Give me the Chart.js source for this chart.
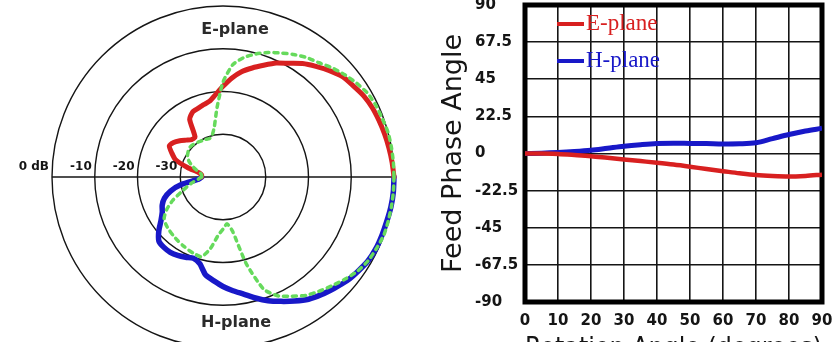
<!DOCTYPE html>
<html>
<head>
<meta charset="utf-8">
<script src="https://cdn.jsdelivr.net/npm/chart.js@4.4.1/dist/chart.umd.min.js"></script>
<style>
  html, body { margin: 0; padding: 0; width: 832px; height: 342px; overflow: hidden; background: #fff; }
  #polar { position: absolute; left: 0; top: 0; }
  #phase { position: absolute; left: 420px; top: 0; }
</style>
</head>
<body>
<canvas id="polar" width="420" height="360"></canvas>
<canvas id="phase" width="412" height="370"></canvas>
<script>
// pattern cuts, angle off boresight (deg)
const cutAngles = [0, 5, 10, 15, 20, 25, 30, 35, 40, 45, 50, 55, 60, 65, 70, 75, 80, 85, 90,
  95, 100, 105, 110, 115, 120, 125, 130, 135, 140, 145, 150, 155, 160, 165, 170, 175, 180];
const ePlaneDb = [0, -0.3, -0.6, -0.9, -1.2, -1.5, -2.0, -2.8, -3.5, -4.8, -6.2, -7.6, -9.3, -10.6, -12.2,
  -13.6, -15.0, -16.8, -18.8, -20.6, -22.0, -22.5, -22.9, -23.2, -24.4, -28.6, -28.6, -27.8, -26.8, -25.9,
  -25.5, -26.8, -28.2, -31.4, -34.3, -35, -35];
const ePlaneDashDb = [0, 0, 0, 0, -0.3, -0.5, -0.9, -1.8, -2.8, -3.9, -5.1, -5.9, -6.9, -8.0, -9.0,
  -10.2, -11.6, -13.6, -17.8, -23.8, -28.2, -30.0, -30.5, -30.3, -30.2, -30.0, -29.8, -29.6, -29.6, -30.0,
  -30.4, -31.2, -32.3, -33.5, -34.6, -35, -35];
const hPlaneDb = [0, 0, -0.1, -0.3, -0.4, -0.5, -0.8, -1.5, -2.2, -3.2, -4.1, -5.1, -6.5, -7.9, -9.2,
  -10.7, -12.2, -13.3, -14.4, -15.6, -16.7, -19.0, -19.8, -19.3, -18.8, -18.5, -18.5, -18.8, -20.4, -22.3,
  -23.6, -24.3, -25.4, -27.3, -30.2, -34.3, -35];
const hPlaneDashDb = [0, 0, 0, 0, 0, -0.4, -0.8, -1.6, -2.8, -4.0, -5.1, -6.2, -7.8, -9.3, -12.0,
  -19.0, -27.1, -29.0, -27.8, -26.2, -23.0, -20.7, -20.8, -21.1, -21.4, -21.7, -22.0, -22.3, -22.6, -23.2,
  -24.8, -27.0, -29.5, -31.3, -32.8, -34.2, -35];
const ringTicks = [0, -10, -20, -30];
const ringLabels = ['0 dB', '-10', '-20', '-30'];

// feed phase vs rotation
const rotation = [0, 5, 10, 15, 20, 25, 30, 35, 40, 45, 50, 55, 60, 65, 70, 75, 80, 85, 90];
const eFeedPhase = [0, 0, -0.3, -0.9, -1.6, -2.6, -3.6, -4.6, -5.6, -6.7, -8.0, -9.4, -10.7, -12.0, -13.1, -13.7, -14.0, -13.6, -12.8];
const hFeedPhase = [0, 0.2, 0.6, 1.2, 2.0, 3.2, 4.4, 5.3, 6.0, 6.2, 6.1, 6.0, 5.8, 5.9, 6.5, 9.0, 11.5, 13.6, 15.3];
const rotationTicks = [0, 10, 20, 30, 40, 50, 60, 70, 80, 90];
const phaseTicks = [-90, -67.5, -45, -22.5, 0, 22.5, 45, 67.5, 90];

const RED = '#d82020';
const BLUE = '#1818c8';
const GREEN = '#66da5c';
const INK = '#151515';

Chart.defaults.font.family = 'DejaVu Sans';

// radar needs the full circle; upper half = E-plane, lower half = H-plane
const STEP = cutAngles[1] - cutAngles[0];
const N = 360 / STEP;
const dirs = [];
for (let k = 0; k < N; k++) dirs.push(String(k * STEP));
function ring(values, upper) {
  const out = new Array(N).fill(null);
  cutAngles.forEach((a, i) => { out[upper ? (N - a / STEP) % N : a / STEP] = values[i]; });
  return out;
}

const polarText = {
  id: 'polarText',
  afterDraw(chart) {
    const s = chart.scales.r;
    const ctx = chart.ctx;
    ctx.save();
    ctx.fillStyle = INK;
    ctx.font = 'bold 12px "DejaVu Sans"';
    ctx.textAlign = 'right';
    ctx.textBaseline = 'bottom';
    ringTicks.forEach((v, i) => {
      ctx.fillText(ringLabels[i], s.xCenter - s.getDistanceFromCenterForValue(v) - 3, s.yCenter - 4);
    });
    ctx.fillStyle = '#2a2a2a';
    ctx.font = 'bold 16px "DejaVu Sans"';
    ctx.textAlign = 'center';
    ctx.textBaseline = 'middle';
    ctx.fillText('E-plane', s.xCenter + 12, s.yCenter - 147);
    ctx.fillText('H-plane', s.xCenter + 13, s.yCenter + 146);
    ctx.restore();
  }
};

new Chart(document.getElementById('polar'), {
  type: 'radar',
  data: {
    labels: dirs,
    datasets: [
      { label: 'E-plane dashed', data: ring(ePlaneDashDb, true), borderColor: GREEN, borderWidth: 3.5, borderDash: [4, 5], order: 0 },
      { label: 'H-plane dashed', data: ring(hPlaneDashDb, false), borderColor: GREEN, borderWidth: 3.5, borderDash: [4, 5], order: 0 },
      { label: 'E-plane', data: ring(ePlaneDb, true), borderColor: RED, borderWidth: 5, order: 1 },
      { label: 'H-plane', data: ring(hPlaneDb, false), borderColor: BLUE, borderWidth: 5.5, order: 1 }
    ]
  },
  options: {
    responsive: false,
    animation: false,
    spanGaps: false,
    layout: { padding: { left: 52, top: 6, right: 26, bottom: 12 } },
    elements: {
      point: { radius: 0 },
      line: { tension: 0.2, fill: false, borderCapStyle: 'round', borderJoinStyle: 'round' }
    },
    plugins: { legend: { display: false }, tooltip: { enabled: false } },
    scales: {
      r: {
        min: -40,
        max: 0,
        startAngle: 90,
        ticks: { display: false, stepSize: 10 },
        pointLabels: { display: false },
        grid: { circular: true, color: INK, lineWidth: 1.4 },
        angleLines: {
          color: c => (c.index === 0 || c.index === N / 2) ? INK : 'rgba(0,0,0,0)',
          lineWidth: 1.4
        }
      }
    }
  },
  plugins: [polarText]
});

const frameAndLegend = {
  id: 'frameAndLegend',
  beforeDatasetsDraw(chart) {
    const { ctx, chartArea: a } = chart;
    ctx.save();
    ctx.strokeStyle = '#000';
    ctx.lineWidth = 5;
    ctx.strokeRect(a.left, a.top, a.right - a.left, a.bottom - a.top);
    ctx.restore();
  },
  afterDatasetsDraw(chart) {
    const { ctx, chartArea: a } = chart;
    chart.data.datasets.forEach((ds, i) => {
      const y = a.top + 19 + i * 37;
      ctx.save();
      ctx.strokeStyle = ds.borderColor;
      ctx.lineWidth = 4;
      ctx.beginPath();
      ctx.moveTo(a.left + 32, y);
      ctx.lineTo(a.left + 59, y);
      ctx.stroke();
      ctx.fillStyle = ds.borderColor;
      ctx.font = '23px "Liberation Serif"';
      ctx.textBaseline = 'middle';
      ctx.fillText(ds.label, a.left + 61, y);
      ctx.restore();
    });
  }
};

const tickFont = { family: 'DejaVu Sans', size: 15, weight: 'bold' };
const titleFont = { family: 'DejaVu Sans', size: 27 };

new Chart(document.getElementById('phase'), {
  type: 'line',
  data: {
    datasets: [
      { label: 'E-plane', data: rotation.map((x, i) => ({ x, y: eFeedPhase[i] })), borderColor: RED, borderWidth: 4.5 },
      { label: 'H-plane', data: rotation.map((x, i) => ({ x, y: hFeedPhase[i] })), borderColor: BLUE, borderWidth: 5 }
    ]
  },
  options: {
    responsive: false,
    animation: false,
    layout: { padding: { left: 55, top: 5, right: 10, bottom: 0 } },
    elements: { point: { radius: 0 }, line: { cubicInterpolationMode: 'monotone' } },
    plugins: { legend: { display: false }, tooltip: { enabled: false } },
    scales: {
      x: {
        type: 'linear',
        min: 0,
        max: 90,
        afterBuildTicks: s => { s.ticks = rotationTicks.map(v => ({ value: v })); },
        afterFit: s => { s.height = 68; s.paddingLeft = 0; s.paddingRight = 0; },
        grid: { color: INK, lineWidth: 1.6, drawTicks: false },
        border: { display: false },
        ticks: { padding: 10, font: tickFont, color: INK, maxRotation: 0, autoSkip: false },
        title: { display: true, text: 'Rotation Angle (degrees)', font: titleFont, color: INK, padding: { top: 0, bottom: 5 } }
      },
      y: {
        min: -90,
        max: 90,
        afterBuildTicks: s => { s.ticks = phaseTicks.map(v => ({ value: v })); },
        afterFit: s => { s.width = 50; s.paddingTop = 0; s.paddingBottom = 0; },
        grid: { color: INK, lineWidth: 1.6, drawTicks: false },
        border: { display: false },
        ticks: { crossAlign: 'far', font: tickFont, color: INK, autoSkip: false, callback: v => String(v) },
        title: { display: true, text: 'Feed Phase Angle', font: titleFont, color: INK, padding: { top: -37, bottom: 0 } }
      }
    }
  },
  plugins: [frameAndLegend]
});
</script>
</body>
</html>
